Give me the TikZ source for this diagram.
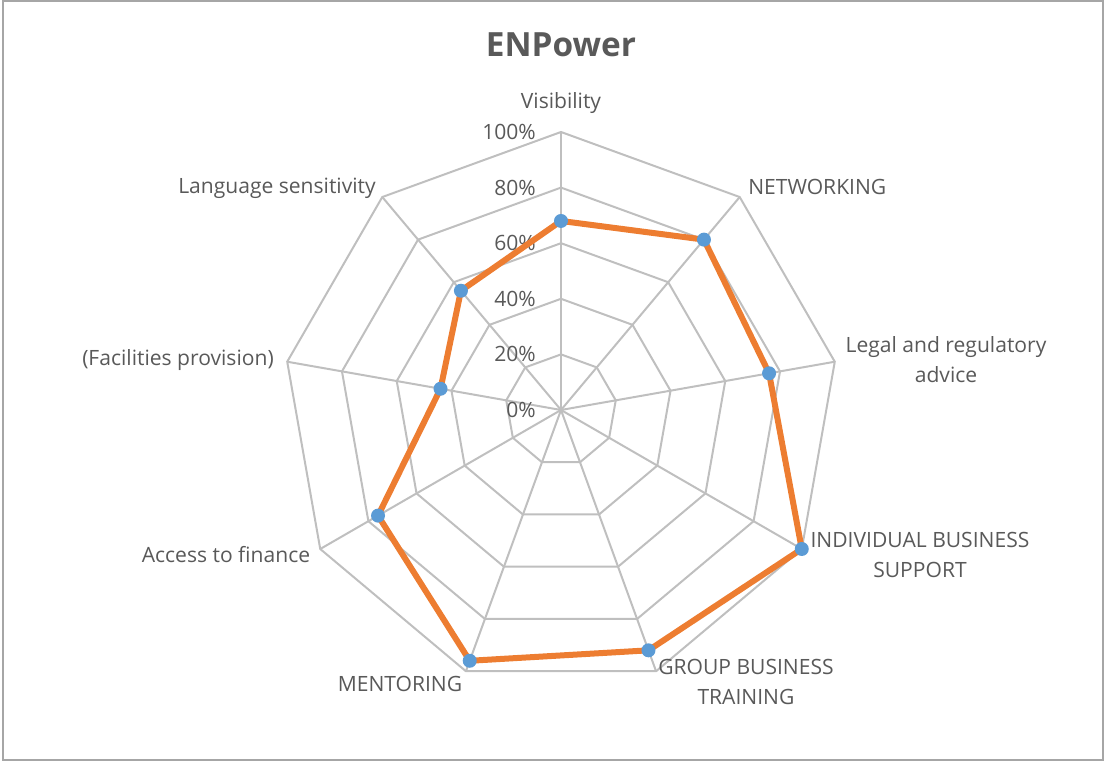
\documentclass[tikz,border=0pt]{standalone}
\usepackage{fontspec}
\setmainfont{Open Sans}
\definecolor{gridgray}{HTML}{BFBFBF}
\definecolor{framegray}{HTML}{A6A6A6}
\definecolor{textgray}{HTML}{595959}
\definecolor{seriesorange}{HTML}{ED7D31}
\definecolor{markerblue}{HTML}{5B9BD5}
\tikzset{
	grid/.style={draw=gridgray, line width=1.5},
	series/.style={draw=seriesorange, line width=4.5, line join=round},
	axislabel/.style={text=textgray, font=\fontsize{15.8}{22.5}\selectfont, align=center, inner sep=0pt},
	ticklabel/.style={text=textgray, font=\fontsize{15.8}{19}\selectfont, anchor=east, inner sep=0pt}
}
\begin{document}
\begin{tikzpicture}[x=0.75pt,y=0.75pt]
	\def\R{278};
	\useasboundingbox (-561,-352) rectangle (545,410);
	\draw[framegray, line width=1.5] (-558,409) rectangle (542,-350);
	\coordinate (C) at (0,0);
	% web
	\foreach \k in {1,...,5}
		\draw[grid] (90:\k*\R/5) \foreach \a in {50,10,...,-230} { -- (\a:\k*\R/5) } -- cycle;
	\foreach \a in {90,50,...,-230}
		\draw[grid] (C) -- (\a:\R);
	% scale
	\foreach \k/\t in {0/0\%, 1/20\%, 2/40\%, 3/60\%, 4/80\%, 5/100\%}
		\node[ticklabel] (tick\k) at (-25,\k*\R/5) {\t};
	% series
	\foreach \n/\a/\v in {vis/90/0.68, net/50/0.80, leg/10/0.76, ind/-30/1.00, grp/-70/0.92,
		men/-110/0.96, acc/-150/0.76, fac/-190/0.44, lan/-230/0.56}
		\coordinate (\n) at (\a:\v*\R);
	\draw[series] (vis) -- (net) -- (leg) -- (ind) -- (grp) -- (men) -- (acc) -- (fac) -- (lan) -- cycle;
	\foreach \n in {vis,net,leg,ind,grp,men,acc,fac,lan}
		\fill[markerblue] (\n) circle (7);
	% labels
	\node[text=textgray, font=\bfseries\fontsize{25}{30}\selectfont] (title) at (0,365) {ENPower};
	\node[axislabel] (lvis) at (0,307) {Visibility};
	\node[axislabel, anchor=west] (lnet) at (187,223) {NETWORKING};
	\node[axislabel] (lleg) at (385,50) {Legal and regulatory\\advice};
	\node[axislabel] (lind) at (359,-145) {INDIVIDUAL BUSINESS\\SUPPORT};
	\node[axislabel] (lgrp) at (185,-272) {GROUP BUSINESS\\TRAINING};
	\node[axislabel] (lmen) at (-161,-274) {MENTORING};
	\node[axislabel] (lacc) at (-335,-145) {Access to finance};
	\node[axislabel] (lfac) at (-383,50) {(Facilities provision)};
	\node[axislabel] (llan) at (-284,222) {Language sensitivity};
\end{tikzpicture}
\end{document}
